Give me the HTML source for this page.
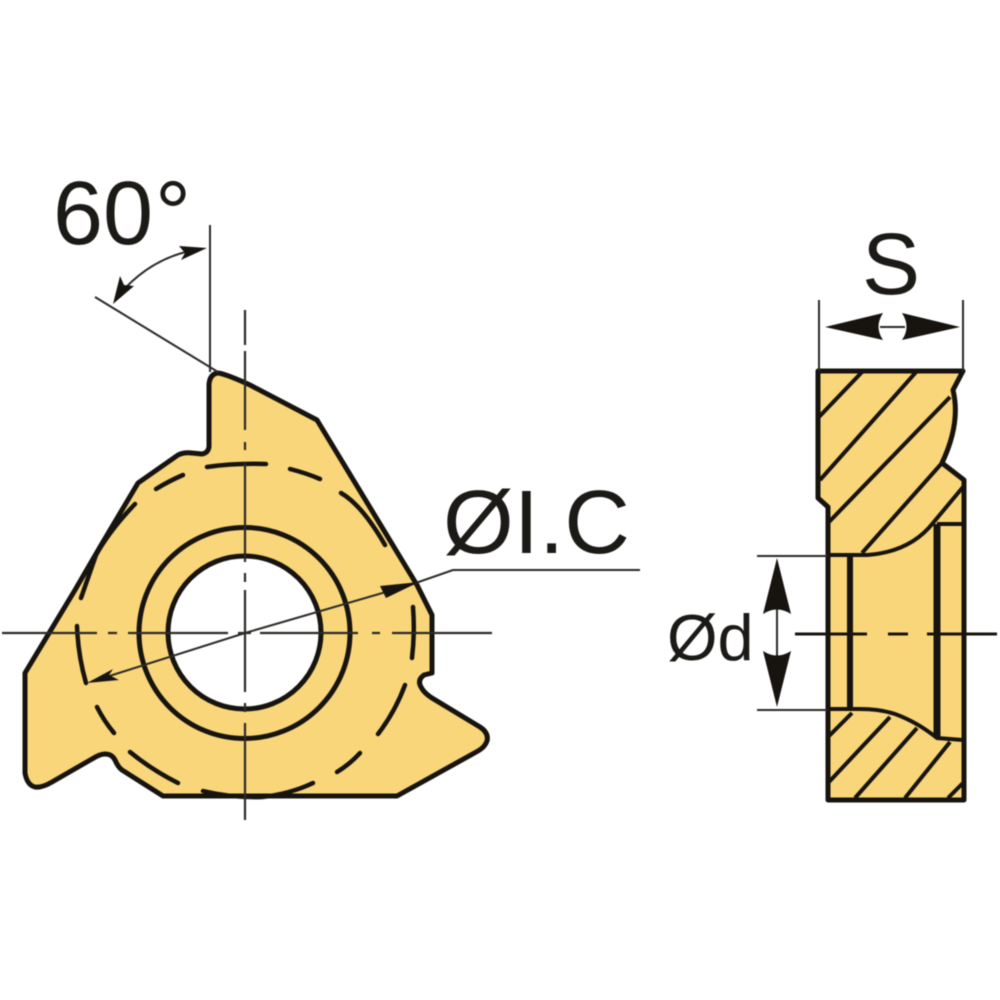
<!DOCTYPE html>
<html><head><meta charset="utf-8"><style>
html,body{margin:0;padding:0;background:#fff;width:1000px;height:1000px;overflow:hidden}
svg{display:block;filter:blur(.6px)}
text{font-family:"Liberation Sans",sans-serif;fill:#1c1a17}
</style></head><body>
<svg width="1000" height="1000" viewBox="0 0 1000 1000" xmlns="http://www.w3.org/2000/svg">
<rect width="1000" height="1000" fill="#fff"/>
<path d="M209 447 L209 384 Q210 374 218 373 Q226 374 250 385 L317 420 L417 585 L432 615 L432 673 L424 675 Q417 680 421 687 Q424 693 432 698 L480 727 Q489 733 487 741 Q485 747 478 751 L397 796 L163 796 L122 770 Q118 767 115 760 Q112 754 105 754 Q100 754 92 759 L52 782 Q42 788 35 787 Q27 785 25 773 L25 673 L75 590 L100 547 L138 483 L178 455 Q184 452 192 453 L202 454 Q208 453 209 447 Z" fill="#f9d67a" stroke="#17140f" stroke-width="5" stroke-linejoin="round"/>
<circle cx="244.5" cy="633" r="105.5" fill="none" stroke="#17140f" stroke-width="5"/>
<circle cx="244.5" cy="632.5" r="76.5" fill="#fff" stroke="#17140f" stroke-width="5"/>
<g fill="none" stroke="#17140f" stroke-width="4.5" stroke-linecap="round">
<path d="M207 467 Q236 463 266 464"/>
<path d="M290 469 Q306 473 320 479"/>
<path d="M341 493 Q362 505 385 545"/>
<path d="M156 489 Q169 481 183 475"/>
<path d="M135 504 Q110 530 96 555 L81 598"/>
<path d="M77 626 Q78 655 86 683"/>
<path d="M97 707 Q104 721 114 733"/>
<path d="M130 752 Q152 770 178 783"/>
<path d="M203 791 Q232 798 262 797 Q290 794 313 783"/>
<path d="M337 772 Q350 764 360 753"/>
<path d="M378 734 Q395 712 405 685"/>
<path d="M412 658 Q415 632 413 607"/>
</g>
<g fill="none" stroke="#2c2a27" stroke-width="2.2">
<path d="M245 310V345M245 351V430M245 442V450M245 463V562M245 573V582M245 590V692M245 703V712M245 723V820"/>
<path d="M2 633H97M108 633H117M128 633H228M238 633H251M260 633H358M372 633H380M392 633H492"/>
</g>
<g fill="none" stroke="#2c2a27" stroke-width="2">
<path d="M245 633L410 585L453 570H640"/>
<path d="M245 633L100 679"/>
<path d="M210 225V372"/>
<path d="M95 297L218 372"/>
<path d="M118 296Q150 258 195 250"/>
</g>
<path d="M419 582L380 586L386 598Z" fill="#17140f"/>
<path d="M87 683L113 669L109 675L119 680Z" fill="#17140f"/>
<path d="M207 248L179 246L185 253L181 260Z" fill="#17140f"/>
<path d="M113 304L120 276L124 285L134 286Z" fill="#17140f"/>
<!-- side view -->
<path d="M818 371H963L953 390Q961 423 942 463L964 480V800H828V507L818 498Z" fill="#f9d67a" stroke="#17140f" stroke-width="5" stroke-linejoin="round"/>
<g fill="none" stroke="#17140f" stroke-width="4">
<path d="M818 418L863 371M820 480L917 371M828 523L950 397M862 553L942 463"/>
<path d="M828 555H867Q910 552 933 523L963 487"/>
<path d="M937 524H963"/>
<path d="M827 709H860Q880 709 895 714Q917 722 937 738L963 740"/>
<path d="M828 737L852 713M828 783L890 717M855 798L917 728M905 798L950 742M948 798L963 783"/>
</g>
<path d="M850 555V710" stroke="#17140f" stroke-width="6" fill="none"/>
<path d="M937 524V737" stroke="#17140f" stroke-width="7" fill="none"/>
<g fill="none" stroke="#2c2a27" stroke-width="2">
<path d="M819 300V371M963 300V371"/>
<path d="M757 556H828M757 710H828"/>
<path d="M777 600V665"/>
<path d="M880 327H905"/>
</g>
<path d="M795 634H867M888 634H908M927 634H997" stroke="#17140f" stroke-width="3" fill="none"/>
<path d="M825 327L883 313Q874 327 883 340Z" fill="#17140f"/>
<path d="M960 327L902 313Q911 327 902 340Z" fill="#17140f"/>
<path d="M777 558L763 614Q777 605 791 614Z" fill="#17140f"/>
<path d="M777 707L763 651Q777 660 791 651Z" fill="#17140f"/>
<text x="53" y="244" font-size="90">60</text>
<text x="155" y="244" font-size="90">°</text>
<text x="443" y="553" font-size="90" textLength="187" lengthAdjust="spacingAndGlyphs">ØI.C</text>
<text x="862" y="294" font-size="87">S</text>
<text x="667" y="660" font-size="65">Ød</text>
</svg>
</body></html>
